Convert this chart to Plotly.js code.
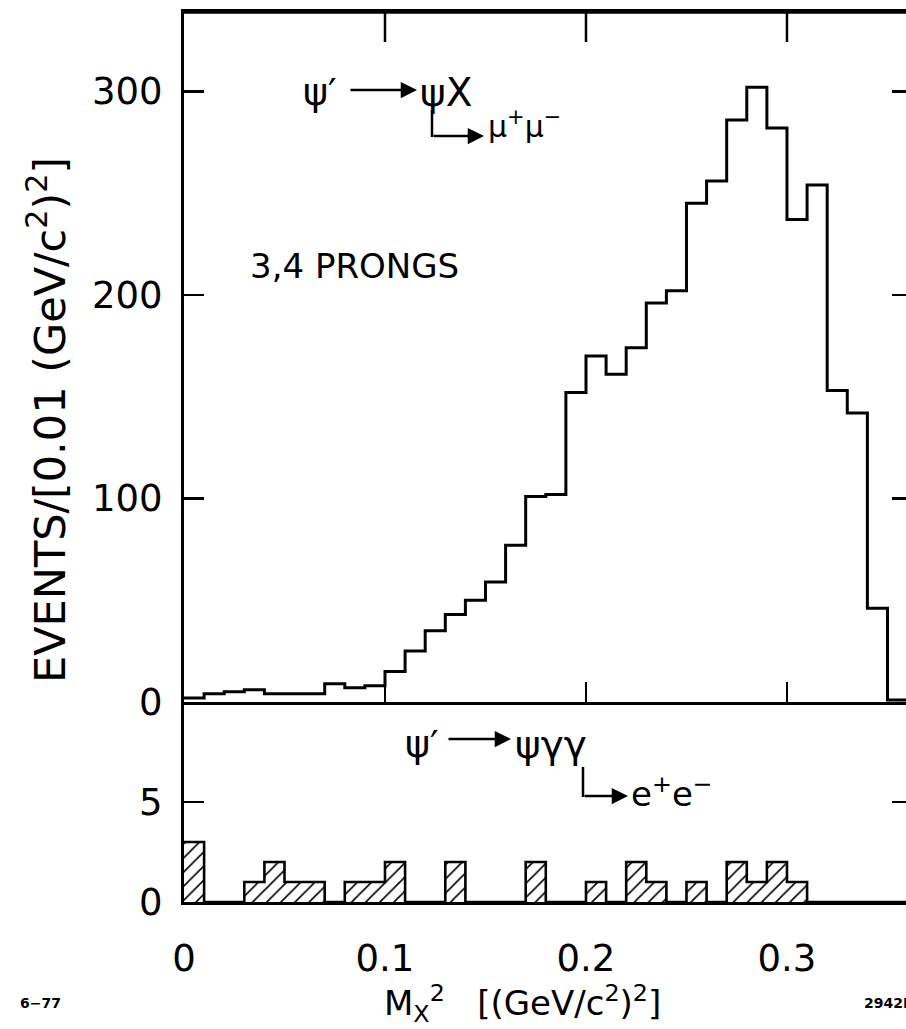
<!DOCTYPE html>
<html>
<head>
<meta charset="utf-8">
<script src="https://cdn.plot.ly/plotly-3.0.1.min.js"></script>
<style>
  html, body { margin: 0; padding: 0; background: #fff; overflow: hidden; width: 906px; height: 1029px; }
  #chart { position: absolute; left: 0; top: 0; width: 914px; height: 1029px; }
</style>
</head>
<body>
<div id="chart"></div>
<script>
// Lower edges of the 0.01 (GeV/c^2)^2 bins in M_X^2
const binLow = [0.00, 0.01, 0.02, 0.03, 0.04, 0.05, 0.06, 0.07, 0.08, 0.09,
                0.10, 0.11, 0.12, 0.13, 0.14, 0.15, 0.16, 0.17, 0.18, 0.19,
                0.20, 0.21, 0.22, 0.23, 0.24, 0.25, 0.26, 0.27, 0.28, 0.29,
                0.30, 0.31, 0.32, 0.33, 0.34, 0.35];
const binWidth = 0.01;

// psi' -> psi X, psi -> mu+ mu-, 3,4 prongs
const muonEvents = [2, 4, 5, 6, 4, 4, 4, 9, 7, 8,
                    15, 25, 35, 43, 50, 59, 77, 101, 102, 152,
                    170, 161, 174, 196, 202, 245, 256, 286, 302, 282,
                    237, 254, 153, 142, 46, 1];

// psi' -> psi gamma gamma, psi -> e+ e-
const electronEvents = [3, 0, 0, 1, 2, 1, 1, 0, 1, 1,
                        2, 0, 0, 2, 0, 0, 0, 2, 0, 0,
                        1, 0, 2, 1, 0, 1, 0, 2, 1, 2,
                        1, 0, 0, 0, 0, 0];

const xTickVals = [0, 0.1, 0.2, 0.3];
const xTickText = ['0', '0.1', '0.2', '0.3'];
const upperTickVals = [0, 100, 200, 300];
const upperTickText = ['0', '100', '200', '300'];
const lowerTickVals = [0, 5];
const lowerTickText = ['0', '5'];

// ---- frame geometry (pixels in the 914 x 1029 canvas) ----
const W = 914, H = 1029;
const mL = 184, mR = 2, mT = 12, mB = 127;
const xMax = 0.3622;
const upperMax = 339, lowerMax = 10;
const plotW = W - mL - mR;
const plotH = H - mT - mB;
const split = 200 / plotH;          // lower panel is 200 px tall
const upperScale = (plotH * (1 - split)) / upperMax;   // px per event

// helpers to place decorations in pixel terms
const pxX = px => (px - mL) / (plotW / xMax);
const pxYu = py => (H - mB - plotH * split - py) / upperScale;
const pxYl = py => (H - mB - py) / ((plotH * split) / lowerMax);
const paperX = px => (px - mL) / plotW;
const paperY = py => (H - mB - py) / plotH;

// step outlines: repeat the last value so the final bin gets its top edge
const edges = binLow.concat([binLow[binLow.length - 1] + binWidth]);
const muStep = muonEvents.concat([muonEvents[muonEvents.length - 1]]);
const eStep = electronEvents.concat([electronEvents[electronEvents.length - 1]]);
const centers = binLow.map(v => v + binWidth / 2);

const FONT = 'DejaVu Sans, Liberation Sans, sans-serif';

const traces = [
  {
    type: 'bar', x: centers, y: electronEvents, width: binWidth,
    xaxis: 'x', yaxis: 'y',
    marker: {
      color: 'white',
      line: { width: 0 },
      pattern: { shape: '/', fgcolor: 'black', bgcolor: 'white', size: 10, solidity: 0.16 }
    },
    hoverinfo: 'skip'
  },
  {
    type: 'scatter', mode: 'lines', x: edges, y: eStep,
    xaxis: 'x', yaxis: 'y',
    line: { shape: 'hv', color: 'black', width: 2.6 },
    hoverinfo: 'skip'
  },
  {
    type: 'scatter', mode: 'lines', x: edges, y: muStep,
    xaxis: 'x2', yaxis: 'y2',
    line: { shape: 'hv', color: 'black', width: 3 },
    hoverinfo: 'skip'
  }
];

const axisCommon = {
  showgrid: false, zeroline: false, showline: true,
  linecolor: 'black', linewidth: 3,
  tickcolor: 'black', tickwidth: 2.5,
  tickfont: { family: FONT, size: 37, color: 'black' },
  fixedrange: true
};

const annFont = (s) => ({ family: FONT, size: s, color: 'black' });
const arrow = (xref, yref, x, y, len) => ({
  xref: xref, yref: yref, x: x, y: y, ax: -len, ay: 0, text: '',
  showarrow: true, arrowhead: 2, arrowsize: 1.3, arrowwidth: 2.5,
  arrowcolor: 'black', standoff: 0
});

const annotations = [
  // upper panel reaction
  { xref: 'x2', yref: 'y2', x: pxX(320), y: pxYu(92), text: 'ψ′', showarrow: false,
    font: annFont(38), xanchor: 'center', yanchor: 'middle' },
  arrow('x2', 'y2', pxX(417), pxYu(90), 68),
  { xref: 'x2', yref: 'y2', x: pxX(418), y: pxYu(92), text: 'ψX', showarrow: false,
    font: annFont(39), xanchor: 'left', yanchor: 'middle' },
  arrow('x2', 'y2', pxX(484), pxYu(136), 52),
  { xref: 'x2', yref: 'y2', x: pxX(486), y: pxYu(124), text: 'μ<sup>+</sup>μ<sup>−</sup>', showarrow: false,
    font: annFont(30), xanchor: 'left', yanchor: 'middle' },
  { xref: 'x2', yref: 'y2', x: pxX(248), y: pxYu(266), text: '3,4 PRONGS', showarrow: false,
    font: annFont(34), xanchor: 'left', yanchor: 'middle' },

  // lower panel reaction
  { xref: 'x', yref: 'y', x: pxX(422), y: pxYl(744), text: 'ψ′', showarrow: false,
    font: annFont(38), xanchor: 'center', yanchor: 'middle' },
  arrow('x', 'y', pxX(511), pxYl(739), 64),
  { xref: 'x', yref: 'y', x: pxX(513), y: pxYl(744), text: 'ψγγ', showarrow: false,
    font: annFont(39), xanchor: 'left', yanchor: 'middle' },
  arrow('x', 'y', pxX(628), pxYl(796), 45),
  { xref: 'x', yref: 'y', x: pxX(629), y: pxYl(792), text: 'e<sup>+</sup>e<sup>−</sup>', showarrow: false,
    font: annFont(34), xanchor: 'left', yanchor: 'middle' },

  // axis titles
  { xref: 'paper', yref: 'paper', x: paperX(47), y: paperY(420),
    text: 'EVENTS/[0.01 (GeV/c<sup>2</sup>)<sup>2</sup>]', textangle: -90, showarrow: false,
    font: annFont(43), xanchor: 'center', yanchor: 'middle' },
  { xref: 'x', yref: 'paper', x: pxX(522), y: paperY(1003),
    text: 'M<sub>X</sub><sup>2</sup>   [(GeV/c<sup>2</sup>)<sup>2</sup>]', showarrow: false,
    font: annFont(34), xanchor: 'center', yanchor: 'middle' },

  // figure id marks
  { xref: 'paper', yref: 'paper', x: paperX(18), y: paperY(1003),
    text: '<b>6−77</b>', showarrow: false, font: annFont(14), xanchor: 'left', yanchor: 'middle' },
  { xref: 'paper', yref: 'paper', x: paperX(862), y: paperY(1003),
    text: '<b>2942B4</b>', showarrow: false, font: annFont(14), xanchor: 'left', yanchor: 'middle' }
];

const frameLine = { color: 'black', width: 3.5 };
const tickLine = { color: 'black', width: 2.5 };
const topTickLen = 30 / upperScale;   // top-edge ticks are a little longer than the others

const shapes = [
  // top edge of the frame
  { type: 'line', layer: 'above', xref: 'paper', yref: 'paper', x0: 0, x1: 1, y0: 1, y1: 1, line: frameLine },
  // corner strokes of the decay-chain arrows
  { type: 'line', xref: 'x2', yref: 'y2', x0: pxX(432), x1: pxX(432), y0: pxYu(110), y1: pxYu(137),
    line: tickLine },
  { type: 'line', xref: 'x', yref: 'y', x0: pxX(583), x1: pxX(583), y0: pxYl(767), y1: pxYl(797),
    line: tickLine }
].concat(
  // inward ticks hanging from the top edge
  xTickVals.slice(1).map(v => ({
    type: 'line', layer: 'above', xref: 'x2', yref: 'y2', x0: v, x1: v,
    y0: upperMax, y1: upperMax - topTickLen, line: tickLine
  }))
);

const layout = {
  width: W, height: H,
  margin: { l: mL, r: mR, t: mT, b: mB, pad: 0 },
  paper_bgcolor: 'white', plot_bgcolor: 'white',
  showlegend: false,
  bargap: 0,
  xaxis: Object.assign({}, axisCommon, {
    anchor: 'y', range: [0, xMax],
    tickvals: xTickVals, ticktext: xTickText,
    ticks: '', ticklabelstandoff: 22
  }),
  xaxis2: Object.assign({}, axisCommon, {
    anchor: 'y2', range: [0, xMax],
    tickvals: xTickVals.slice(1), ticks: 'inside', ticklen: 20,
    mirror: 'allticks', showticklabels: false
  }),
  yaxis: Object.assign({}, axisCommon, {
    domain: [0, split], anchor: 'x', range: [0, lowerMax],
    tickvals: lowerTickVals, ticktext: lowerTickText,
    ticks: 'inside', ticklen: 20, mirror: 'ticks', ticklabelstandoff: 11
  }),
  yaxis2: Object.assign({}, axisCommon, {
    domain: [split, 1], anchor: 'x2', range: [0, upperMax],
    tickvals: upperTickVals, ticktext: upperTickText,
    ticks: 'inside', ticklen: 20, mirror: 'ticks', ticklabelstandoff: 11
  }),
  annotations: annotations,
  shapes: shapes
};

Plotly.newPlot('chart', traces, layout, { staticPlot: true, displayModeBar: false });
</script>
</body>
</html>
